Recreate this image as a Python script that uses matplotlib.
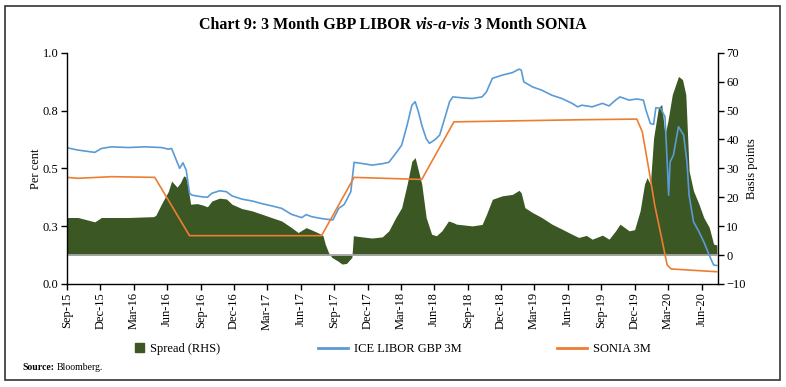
import matplotlib

matplotlib.use("Agg")
import matplotlib.pyplot as plt
import matplotlib.dates as mdates
import pandas as pd
from matplotlib.lines import Line2D
from matplotlib.patches import Patch, Rectangle

plt.rcParams["font.family"] = ["Liberation Serif", "DejaVu Serif"]

# values
libor_dates = [
  "2015-09-01", "2015-10-01", "2015-11-16", "2015-12-04", "2016-01-01",
  "2016-02-16", "2016-04-01", "2016-05-16", "2016-06-04", "2016-06-13",
  "2016-07-05", "2016-07-14", "2016-07-23", "2016-08-01", "2016-08-08",
  "2016-09-04", "2016-09-19", "2016-10-01", "2016-10-22", "2016-11-10",
  "2016-11-25", "2016-12-22", "2017-01-19", "2017-02-16", "2017-03-13",
  "2017-04-10", "2017-05-07", "2017-06-04", "2017-06-16", "2017-07-01",
  "2017-07-28", "2017-08-16", "2017-08-28", "2017-09-13", "2017-09-28",
  "2017-10-16", "2017-10-25", "2017-11-16", "2017-12-13", "2018-01-10",
  "2018-01-28", "2018-02-16", "2018-03-04", "2018-03-19", "2018-04-01",
  "2018-04-10", "2018-04-19", "2018-04-28", "2018-05-10", "2018-05-19",
  "2018-06-04", "2018-06-16", "2018-07-01", "2018-07-13", "2018-07-22",
  "2018-08-16", "2018-09-13", "2018-10-10", "2018-10-22", "2018-11-07",
  "2018-12-04", "2019-01-01", "2019-01-19", "2019-01-25", "2019-02-01",
  "2019-02-25", "2019-03-22", "2019-04-19", "2019-05-16", "2019-06-13",
  "2019-06-28", "2019-07-10", "2019-08-07", "2019-09-04", "2019-09-22",
  "2019-10-10", "2019-10-22", "2019-11-16", "2019-12-07", "2019-12-25",
  "2020-01-01", "2020-01-13", "2020-01-22", "2020-01-28", "2020-02-10",
  "2020-02-22", "2020-02-28", "2020-03-03", "2020-03-07", "2020-03-16",
  "2020-03-30", "2020-04-13", "2020-04-22", "2020-04-28", "2020-05-10",
  "2020-05-25", "2020-06-07", "2020-06-22", "2020-07-04", "2020-07-13",
]
libor_pct = [
  0.589, 0.579, 0.569, 0.586, 0.593,
  0.590, 0.593, 0.590, 0.583, 0.586,
  0.500, 0.524, 0.492, 0.392, 0.384,
  0.377, 0.375, 0.392, 0.403, 0.399,
  0.381, 0.367, 0.359, 0.347, 0.338,
  0.327, 0.301, 0.287, 0.300, 0.291,
  0.283, 0.279, 0.277, 0.327, 0.344,
  0.399, 0.526, 0.521, 0.514, 0.520,
  0.526, 0.565, 0.600, 0.687, 0.773,
  0.788, 0.744, 0.687, 0.629, 0.608,
  0.625, 0.644, 0.723, 0.788, 0.809,
  0.805, 0.802, 0.809, 0.831, 0.889,
  0.903, 0.914, 0.929, 0.925, 0.874,
  0.852, 0.838, 0.816, 0.802, 0.781,
  0.766, 0.773, 0.766, 0.781, 0.770,
  0.795, 0.809, 0.795, 0.800, 0.795,
  0.752, 0.694, 0.690, 0.762, 0.760,
  0.723, 0.528, 0.384, 0.528, 0.557,
  0.680, 0.644, 0.528, 0.384, 0.269,
  0.226, 0.183, 0.125, 0.082, 0.080,
]

sonia_dates = [
  "2015-09-01", "2015-10-01", "2016-01-01", "2016-04-28", "2016-08-01",
  "2017-07-28", "2017-10-25", "2018-04-28", "2018-07-25", "2019-07-01",
  "2019-12-07", "2019-12-22", "2020-01-10", "2020-01-25", "2020-02-13",
  "2020-02-28", "2020-03-10", "2020-07-13",
]
sonia_pct = [
  0.461, 0.457, 0.464, 0.461, 0.209,
  0.209, 0.461, 0.452, 0.701, 0.710,
  0.713, 0.658, 0.485, 0.341, 0.197,
  0.082, 0.065, 0.053,
]

spread_dates = [
  "2015-09-01", "2015-10-01", "2015-11-16", "2015-12-04", "2016-02-16",
  "2016-04-25", "2016-05-01", "2016-05-16", "2016-06-04", "2016-06-13",
  "2016-06-28", "2016-07-07", "2016-07-16", "2016-07-22", "2016-07-28",
  "2016-08-04", "2016-08-22", "2016-09-04", "2016-09-19", "2016-10-01",
  "2016-10-22", "2016-11-10", "2016-11-25", "2016-12-22", "2017-01-19",
  "2017-02-16", "2017-03-13", "2017-04-10", "2017-05-07", "2017-05-25",
  "2017-06-16", "2017-07-01", "2017-07-22", "2017-08-01", "2017-08-07",
  "2017-08-16", "2017-08-25", "2017-09-10", "2017-09-22", "2017-10-04",
  "2017-10-19", "2017-10-23", "2017-11-16", "2017-12-13", "2018-01-10",
  "2018-01-28", "2018-02-16", "2018-03-04", "2018-03-19", "2018-04-01",
  "2018-04-10", "2018-04-19", "2018-04-28", "2018-05-10", "2018-05-25",
  "2018-06-07", "2018-06-22", "2018-07-10", "2018-07-22", "2018-08-01",
  "2018-08-16", "2018-09-13", "2018-10-10", "2018-10-22", "2018-11-07",
  "2018-12-04", "2019-01-01", "2019-01-19", "2019-01-25", "2019-02-04",
  "2019-02-25", "2019-03-22", "2019-04-19", "2019-05-16", "2019-06-13",
  "2019-07-01", "2019-07-22", "2019-08-07", "2019-09-04", "2019-09-22",
  "2019-10-10", "2019-10-22", "2019-11-16", "2019-12-01", "2019-12-16",
  "2019-12-28", "2020-01-04", "2020-01-13", "2020-01-22", "2020-02-04",
  "2020-02-13", "2020-02-22", "2020-03-01", "2020-03-13", "2020-03-30",
  "2020-04-10", "2020-04-19", "2020-04-28", "2020-05-10", "2020-05-25",
  "2020-06-07", "2020-06-22", "2020-07-04", "2020-07-13",
]
spread_bp = [
  13.0, 13.0, 11.5, 13.0, 13.0,
  13.3, 13.8, 17.6, 22.0, 25.6,
  23.5, 25.0, 27.4, 27.0, 23.4,
  17.6, 17.8, 17.4, 16.7, 18.7,
  19.7, 19.4, 17.6, 16.1, 15.3,
  14.1, 13.0, 11.8, 9.5, 7.8,
  9.5, 8.7, 7.5, 6.7, 3.8,
  0.9, -0.8, -2.0, -3.1, -2.9,
  -0.8, 6.7, 6.3, 5.9, 6.3,
  8.4, 13.0, 16.4, 24.5, 32.5,
  33.7, 29.1, 24.5, 13.0, 7.2,
  6.7, 8.4, 11.8, 11.3, 10.7,
  10.5, 10.1, 10.6, 14.1, 19.3,
  20.5, 21.0, 22.4, 21.5, 16.4,
  14.7, 13.0, 10.7, 9.0, 7.2,
  6.1, 6.8, 5.5, 6.9, 5.5,
  8.4, 10.7, 8.4, 8.8, 15.3,
  24.5, 26.8, 24.5, 40.6, 50.9,
  52.1, 41.7, 46.3, 55.5, 61.8,
  60.7, 55.5, 29.1, 22.2, 17.6,
  13.0, 9.6, 3.8, 3.5,
]

left_ticks = [0.0, 0.25, 0.5, 0.75, 1.0]
left_tick_labels = ["0.0", "0.3", "0.5", "0.8", "1.0"]
right_ticks = [-10, 0, 10, 20, 30, 40, 50, 60, 70]
x_start, x_end = "2015-09-01", "2020-07-16"

GREEN = "#3A5724"
BLUE = "#5B9BD5"
ORANGE = "#ED7D31"
ZERO_GREY = "#A6A6A6"

W, H = 786, 387
fig = plt.figure(figsize=(W / 100, H / 100), dpi=100)
ax = fig.add_axes([67 / W, 1 - 284 / H, (718 - 67) / W, (284 - 52.7) / H])
ax2 = ax.twinx()
ax.set_zorder(ax2.get_zorder() + 1)
ax.patch.set_visible(False)

ax2.fill_between(
  pd.to_datetime(spread_dates), 0, spread_bp, color=GREEN, linewidth=0
)
ax2.axhline(0, color=ZERO_GREY, linewidth=1.3, zorder=3)
ax.plot(pd.to_datetime(libor_dates), libor_pct, color=BLUE, linewidth=1.2)
ax.plot(pd.to_datetime(sonia_dates), sonia_pct, color=ORANGE, linewidth=1.2)

ax.set_xlim(pd.Timestamp(x_start), pd.Timestamp(x_end))
ax.set_ylim(0, 1)
ax2.set_ylim(-10, 70)
ax.set_yticks(left_ticks)
ax.set_yticklabels(left_tick_labels)
ax2.set_yticks(right_ticks)

ax.xaxis.set_major_locator(mdates.MonthLocator(bymonth=[3, 6, 9, 12]))
ax.xaxis.set_major_formatter(mdates.DateFormatter("%b-%y"))

for name in ("top", "right"):
  ax.spines[name].set_visible(False)
for name in ("top", "left", "bottom"):
  ax2.spines[name].set_visible(False)
for a in (ax, ax2):
  for sp in a.spines.values():
    sp.set_linewidth(1.0)
    sp.set_color("black")
  a.tick_params(direction="out", length=4, width=1.0, labelsize=9, pad=2)
ax.tick_params(axis="x", labelrotation=90)

ax.set_ylabel("Per cent", fontsize=9, labelpad=1)
ax2.set_ylabel("Basis points", fontsize=9, labelpad=0)

# legend, laid out like the Excel original
leg_y = 1 - 349 / H
leg_kw = dict(frameon=False, fontsize=9, loc="center left", borderpad=0,
              borderaxespad=0, handletextpad=0.5)
fig.legend([Patch(color=GREEN)], ["Spread (RHS)"], bbox_to_anchor=(135 / W, leg_y),
           handlelength=0.7, handleheight=0.7, **leg_kw)
fig.legend([Line2D([], [], color=BLUE, lw=2)], ["ICE LIBOR GBP 3M"],
           bbox_to_anchor=(318 / W, leg_y), handlelength=2.4, **leg_kw)
fig.legend([Line2D([], [], color=ORANGE, lw=2)], ["SONIA 3M"],
           bbox_to_anchor=(557 / W, leg_y), handlelength=2.4, **leg_kw)

# title with italic middle part
renderer = fig.canvas.get_renderer()
pieces = [("Chart 9: 3 Month GBP LIBOR ", "normal"), ("vis-a-vis", "italic"),
          (" 3 Month SONIA", "normal")]
texts = []
for s, style in pieces:
  texts.append(fig.text(0, 1 - 25 / H, s, fontsize=11.5, fontweight="bold",
                        style=style, va="center", ha="left"))
widths = [t.get_window_extent(renderer).width for t in texts]
x = (W / 2 - sum(widths) / 2)
for t, w in zip(texts, widths):
  t.set_x(x / W)
  x += w

src = fig.text(22 / W, 1 - 367 / H, "Source:", fontsize=7, fontweight="bold",
               va="center")
src_w = src.get_window_extent(renderer).width
fig.text((22 + src_w + 3) / W, 1 - 367 / H, "Bloomberg.", fontsize=7, va="center")

fig.patches.append(Rectangle((5 / W, 1 - 380 / H), 775 / W, 374 / H,
                             transform=fig.transFigure, fill=False,
                             edgecolor="#333333", linewidth=1.2))

fig.savefig("out.png", dpi=100)
